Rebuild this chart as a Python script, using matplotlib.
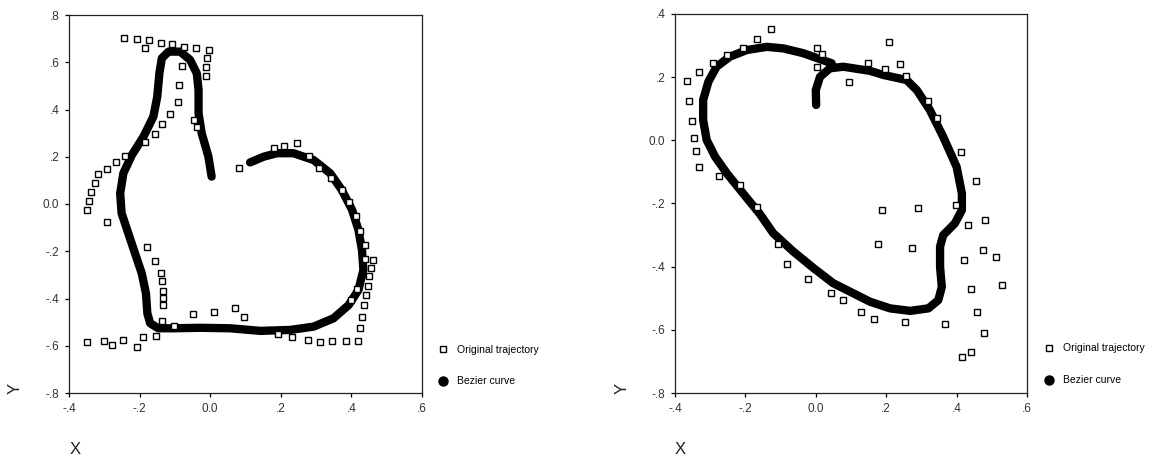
import matplotlib
matplotlib.use("Agg")
import matplotlib.pyplot as plt
from matplotlib.lines import Line2D

plt.rcParams['font.family'] = ['Liberation Sans', 'DejaVu Sans']

# ---------------- data: left panel ----------------
left_orig_x = [-0.243, -0.207, -0.174, -0.185, -0.140, -0.109, -0.074, -0.040, -0.004, -0.008,
               -0.081, -0.012, -0.011, -0.087, -0.091, -0.113, -0.137, -0.156, -0.186, -0.046,
               -0.038, -0.240, -0.267, -0.293, -0.319, -0.325, -0.337, -0.343, -0.350, -0.292,
               0.082, 0.182, 0.210, 0.247, 0.280, 0.308, 0.342, 0.372, 0.394, 0.413,
               -0.178, -0.156, -0.140, -0.137, -0.133, -0.133, -0.133, -0.137, -0.103, -0.153,
               -0.191, -0.206, -0.246, -0.278, -0.300, -0.350, -0.048, 0.010, 0.071, 0.096,
               0.193, 0.233, 0.276, 0.312, 0.344, 0.384, 0.420, 0.423, 0.431, 0.436,
               0.442, 0.446, 0.450, 0.456, 0.460, 0.439, 0.439, 0.425, 0.400, 0.415]
left_orig_y = [0.704, 0.697, 0.693, 0.660, 0.681, 0.676, 0.666, 0.660, 0.652, 0.617,
               0.586, 0.580, 0.542, 0.504, 0.430, 0.381, 0.339, 0.296, 0.264, 0.356,
               0.324, 0.203, 0.178, 0.147, 0.126, 0.087, 0.049, 0.013, -0.025, -0.078,
               0.151, 0.238, 0.247, 0.258, 0.205, 0.154, 0.109, 0.061, 0.007, -0.052,
               -0.182, -0.242, -0.290, -0.327, -0.370, -0.398, -0.429, -0.494, -0.517, -0.559,
               -0.564, -0.606, -0.574, -0.596, -0.579, -0.585, -0.467, -0.456, -0.441, -0.477,
               -0.552, -0.564, -0.574, -0.585, -0.579, -0.579, -0.579, -0.525, -0.477, -0.429,
               -0.387, -0.349, -0.306, -0.269, -0.237, -0.231, -0.172, -0.114, -0.408, -0.359]

left_bez_x = [0.004, -0.005, -0.024, -0.033, -0.033, -0.038, -0.057, -0.085, -0.118, -0.137,
              -0.144, -0.150, -0.161, -0.189, -0.222, -0.246, -0.255, -0.251, -0.232, -0.213,
              -0.194, -0.182, -0.178, -0.170, -0.147, -0.104, -0.029, 0.056, 0.142, 0.227,
              0.293, 0.349, 0.392, 0.420, 0.434, 0.430, 0.420, 0.402, 0.373, 0.340,
              0.293, 0.236, 0.189, 0.151, 0.113]
left_bez_y = [0.116, 0.200, 0.299, 0.384, 0.483, 0.553, 0.610, 0.645, 0.645, 0.617,
              0.553, 0.454, 0.370, 0.285, 0.207, 0.130, 0.045, -0.039, -0.124, -0.209,
              -0.293, -0.378, -0.463, -0.505, -0.526, -0.526, -0.524, -0.526, -0.537, -0.533,
              -0.519, -0.484, -0.428, -0.364, -0.279, -0.195, -0.110, -0.025, 0.059, 0.130,
              0.186, 0.215, 0.215, 0.200, 0.176]

# ---------------- data: right panel ----------------
right_orig_x = [-0.128, -0.168, -0.208, -0.251, -0.291, -0.331, -0.367, -0.360, -0.353, -0.346,
                -0.339, -0.331, -0.274, -0.214, -0.168, 0.002, 0.019, 0.002, 0.095, 0.149,
                0.208, 0.198, 0.240, 0.256, 0.320, 0.345, 0.412, 0.456, 0.482, 0.399,
                0.432, 0.189, 0.291, -0.107, -0.081, -0.021, 0.044, 0.078, 0.127, 0.165,
                0.254, 0.366, 0.178, 0.272, 0.420, 0.474, 0.511, 0.442, 0.529, 0.459,
                0.478, 0.442, 0.416]
right_orig_y = [0.354, 0.322, 0.293, 0.270, 0.246, 0.217, 0.188, 0.124, 0.060, 0.008,
                -0.034, -0.085, -0.113, -0.141, -0.212, 0.293, 0.273, 0.233, 0.185, 0.245,
                0.310, 0.226, 0.241, 0.205, 0.125, 0.072, -0.037, -0.129, -0.251, -0.205,
                -0.267, -0.222, -0.214, -0.328, -0.392, -0.438, -0.484, -0.507, -0.542, -0.566,
                -0.574, -0.582, -0.328, -0.341, -0.380, -0.348, -0.368, -0.470, -0.457, -0.542,
                -0.610, -0.670, -0.686]

right_bez_x = [0.001, 0.000, 0.012, 0.040, 0.078, 0.154, 0.192, 0.258, 0.287, 0.324,
               0.362, 0.400, 0.415, 0.415, 0.395, 0.362, 0.353, 0.353, 0.358, 0.348,
               0.320, 0.268, 0.211, 0.154, 0.097, 0.049, -0.007, -0.064, -0.121, -0.159,
               -0.206, -0.253, -0.286, -0.310, -0.320, -0.320, -0.305, -0.282, -0.244, -0.196,
               -0.139, -0.092, -0.036, 0.045]
right_bez_y = [0.112, 0.159, 0.201, 0.228, 0.233, 0.220, 0.207, 0.191, 0.159, 0.096,
               0.011, -0.084, -0.168, -0.221, -0.263, -0.300, -0.337, -0.400, -0.464, -0.506,
               -0.532, -0.540, -0.532, -0.511, -0.479, -0.452, -0.404, -0.352, -0.294, -0.233,
               -0.169, -0.104, -0.052, 0.001, 0.064, 0.128, 0.186, 0.233, 0.265, 0.286,
               0.296, 0.291, 0.276, 0.244]

x_ticks = [-0.4, -0.2, 0.0, 0.2, 0.4, 0.6]
x_ticklabels = ['-.4', '-.2', '0.0', '.2', '.4', '.6']
left_y_ticks = [-0.8, -0.6, -0.4, -0.2, 0.0, 0.2, 0.4, 0.6, 0.8]
left_y_ticklabels = ['-.8', '-.6', '-.4', '-.2', '0.0', '.2', '.4', '.6', '.8']
right_y_ticks = [-0.8, -0.6, -0.4, -0.2, 0.0, 0.2, 0.4]
right_y_ticklabels = ['-.8', '-.6', '-.4', '-.2', '0.0', '.2', '.4']

legend_labels = ['Original trajectory', 'Bezier curve']

W, H = 1164, 459
fig = plt.figure(figsize=(W / 100, H / 100), dpi=100)

def px_axes(l, r, t, b):
    return fig.add_axes([l / W, 1 - b / H, (r - l) / W, (b - t) / H])

def draw(ax, ox, oy, bx, by, yticks, yticklabels, ylim, leg_anchor, xlab_px, ylab_px):
    ax.plot(bx, by, color='black', lw=6.0, solid_capstyle='round',
            solid_joinstyle='round', zorder=2)
    ax.plot(ox, oy, linestyle='none', marker='s', markersize=4.0,
            markerfacecolor='white', markeredgecolor='black', markeredgewidth=1.0, zorder=3)
    ax.set_xlim(-0.4, 0.6)
    ax.set_ylim(*ylim)
    ax.set_xticks(x_ticks)
    ax.set_xticklabels(x_ticklabels)
    ax.set_yticks(yticks)
    ax.set_yticklabels(yticklabels)
    ax.tick_params(direction='out', length=3, width=0.9, labelsize=8.5,
                   labelcolor='#333333', pad=4, top=False, right=False)
    for s in ax.spines.values():
        s.set_linewidth(0.9)
        s.set_color('#222222')
    handles = [Line2D([], [], linestyle='none', marker='s', markersize=4.0,
                      markerfacecolor='white', markeredgecolor='black', markeredgewidth=1.0),
               Line2D([], [], linestyle='none', marker='o', markersize=6.5,
                      markerfacecolor='black', markeredgecolor='black')]
    ax.legend(handles, legend_labels, loc='upper left', bbox_to_anchor=leg_anchor,
              frameon=False, fontsize=7.5, handlelength=0.8, handletextpad=0.95,
              labelspacing=2.1, borderpad=0, borderaxespad=0)
    fig.text(xlab_px[0] / W, 1 - xlab_px[1] / H, 'X', fontsize=12, color='#222222',
             ha='center', va='center')
    fig.text(ylab_px[0] / W, 1 - ylab_px[1] / H, 'Y', fontsize=12, color='#222222',
             ha='center', va='center', rotation=90)

ax1 = px_axes(69, 422, 15, 393)
draw(ax1, left_orig_x, left_orig_y, left_bez_x, left_bez_y, left_y_ticks, left_y_ticklabels,
     (-0.8, 0.8), (1.047, 0.128), (75, 449), (15, 388))

ax2 = px_axes(675, 1027, 14, 393)
draw(ax2, right_orig_x, right_orig_y, right_bez_x, right_bez_y, right_y_ticks, right_y_ticklabels,
     (-0.8, 0.4), (1.050, 0.131), (680, 449), (622, 388))

fig.savefig('out.png', dpi=100)
